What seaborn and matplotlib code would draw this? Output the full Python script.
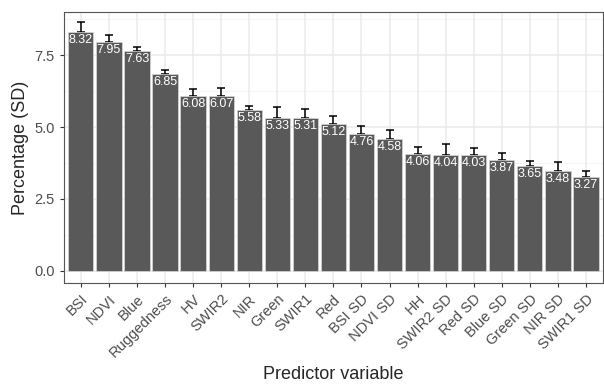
import numpy as np
import matplotlib
matplotlib.use("Agg")
import matplotlib.pyplot as plt
import pandas as pd
import seaborn as sns

variables = ['BSI', 'NDVI', 'Blue', 'Ruggedness', 'HV', 'SWIR2', 'NIR', 'Green',
             'SWIR1', 'Red', 'BSI SD', 'NDVI SD', 'HH', 'SWIR2 SD', 'Red SD',
             'Blue SD', 'Green SD', 'NIR SD', 'SWIR1 SD']
percentage = [8.32, 7.95, 7.63, 6.85, 6.08, 6.07, 5.58, 5.33, 5.31, 5.12,
              4.76, 4.58, 4.06, 4.04, 4.03, 3.87, 3.65, 3.48, 3.27]
sd = [0.33, 0.25, 0.15, 0.15, 0.24, 0.29, 0.15, 0.35, 0.31, 0.27,
      0.29, 0.32, 0.23, 0.37, 0.25, 0.24, 0.17, 0.30, 0.20]

df = pd.DataFrame({'variable': variables, 'pct': percentage, 'sd': sd})

sns.set_style('white')
plt.rcParams['font.family'] = ['Liberation Sans', 'DejaVu Sans']
fig = plt.figure(figsize=(6.04, 3.87), dpi=100)
ax = fig.add_axes([0.106, 0.269, 0.892, 0.70])

# grid first (theme_bw style)
for v in [1.25, 3.75, 6.25, 8.75]:
    ax.axhline(v, color='#f2f2f2', lw=0.6, zorder=0)
for v in [0, 2.5, 5, 7.5]:
    ax.axhline(v, color='#ebebeb', lw=1.1, zorder=0)
for i in range(len(variables)):
    ax.axvline(i, color='#ebebeb', lw=1.1, zorder=0)

sns.barplot(data=df, x='variable', y='pct', color='#595959', saturation=1,
            width=0.9, edgecolor='#d9d9d9', linewidth=0.5, errorbar=None,
            ax=ax, zorder=2)

x = np.arange(len(variables))
ax.errorbar(x, df['pct'], yerr=[np.zeros(len(x)), df['sd']], fmt='none',
            ecolor='black', elinewidth=1.1, capsize=3, capthick=1.1, zorder=1)

for i, row in df.iterrows():
    ax.text(i, row['pct'] - 0.07, f"{row['pct']:.2f}", color='white',
            ha='center', va='top', fontsize=9, zorder=3)

ax.set_xlim(-0.6, len(variables) - 0.4)
ax.set_ylim(-0.42, 9.0)
ax.set_yticks([0, 2.5, 5, 7.5])
ax.set_yticklabels(['0.0', '2.5', '5.0', '7.5'])
ax.set_xticks(x)
ax.set_xticklabels(variables, rotation=45, ha='right', rotation_mode='anchor')
ax.tick_params(axis='both', colors='#333333', labelcolor='#4d4d4d',
               labelsize=10.5, length=3, width=0.8, bottom=True, left=True)
ax.set_xlabel('Predictor variable', fontsize=13, labelpad=4)
ax.set_ylabel('Percentage (SD)', fontsize=13, labelpad=4)
for s in ax.spines.values():
    s.set_color('#555555')
    s.set_linewidth(0.8)

fig.savefig('out.png', dpi=100)
